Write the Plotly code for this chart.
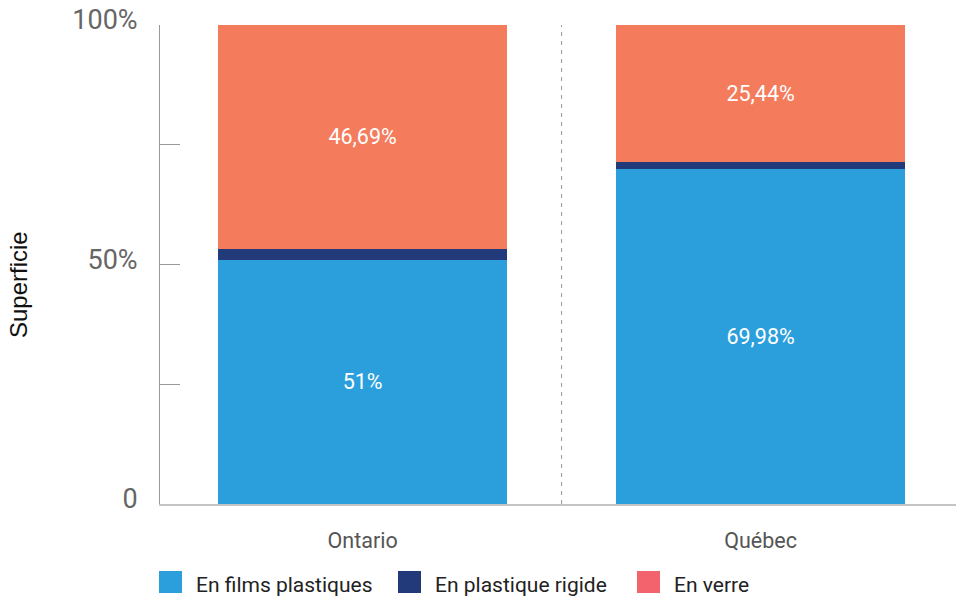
import plotly.graph_objects as go

categories = ["Ontario", "Québec"]
series_names = ["En films plastiques", "En plastique rigide", "En verre"]
films = [51.0, 69.98]
rigide = [2.31, 1.5]
verre = [46.69, 28.52]
films_labels = ["51%", "69,98%"]
rigide_labels = ["", ""]
verre_labels = ["46,69%", "25,44%"]
y_tickvals = [0, 25, 50, 75, 100]
y_ticktext = ["0", "", "50%", "", "100%"]

bar_colors = ["#2B9FDB", "#233A7A", "#F47B5C"]
legend_colors = ["#2B9FDB", "#233A7A", "#F2636E"]

fig = go.Figure()
for vals, labels, col in zip([films, rigide, verre], [films_labels, rigide_labels, verre_labels], bar_colors):
    fig.add_trace(go.Bar(
        x=categories, y=vals, text=labels, textposition="inside",
        insidetextanchor="middle", textangle=0,
        textfont=dict(family="Roboto", size=21.5, color="white"),
        marker=dict(color=col, line=dict(width=0)),
        width=0.726, showlegend=False, hoverinfo="skip",
    ))

fig.add_shape(type="line", xref="x", yref="y", x0=0.5, x1=0.5, y0=0, y1=100,
              line=dict(color="#999999", width=1, dash="4px,5px"))

# legend and axis title placed in paper coords: plot area x 160..956, y 25..504
W, H, L, T = 796.0, 479.0, 160.0, 25.0
def px_x(p):
    return (p - L) / W
def px_y(p):
    return (T + H - p) / H

legend_x = [159, 398, 637]
legend_cy = 582
for name, col, lx in zip(series_names, legend_colors, legend_x):
    fig.add_shape(type="rect", xref="paper", yref="paper",
                  x0=px_x(lx), x1=px_x(lx + 23), y0=px_y(legend_cy + 11), y1=px_y(legend_cy - 11),
                  fillcolor=col, line=dict(width=0))
    fig.add_annotation(xref="paper", yref="paper", x=px_x(lx + 35), y=px_y(legend_cy + 3),
                       xanchor="left", yanchor="middle", text=name, showarrow=False,
                       font=dict(family="Roboto", size=21, color="#222"))

fig.add_annotation(xref="paper", yref="paper", x=px_x(18), y=px_y(285),
                   xanchor="center", yanchor="middle", text="Superficie", textangle=-90,
                   showarrow=False, font=dict(family="Liberation Sans", size=24, color="#111"))

fig.update_layout(
    barmode="stack",
    width=956, height=599,
    margin=dict(l=160, r=0, t=25, b=95),
    paper_bgcolor="white", plot_bgcolor="white",
    font=dict(family="Roboto", color="#333"),
    showlegend=False,
    xaxis=dict(
        range=[-0.509, 1.491], showgrid=False, zeroline=False, automargin=False,
        showline=True, linecolor="#C4C4C4", linewidth=2,
        ticks="", tickfont=dict(family="Roboto", size=21.5, color="#555"),
        ticklabelstandoff=16,
    ),
    yaxis=dict(
        range=[0, 100], tickvals=y_tickvals, ticktext=y_ticktext, automargin=False,
        showgrid=False, zeroline=False, showline=True, linecolor="#999999", linewidth=1,
        ticks="inside", ticklen=20, tickcolor="#999999", tickwidth=1,
        tickfont=dict(family="Roboto", size=27, color="#666"),
        ticklabelstandoff=16, ticklabelshift=-5,
    ),
)

fig.write_html("out.html", config={"displayModeBar": False},
               post_script="document.body.style.margin='0';document.body.style.overflow='hidden';")
